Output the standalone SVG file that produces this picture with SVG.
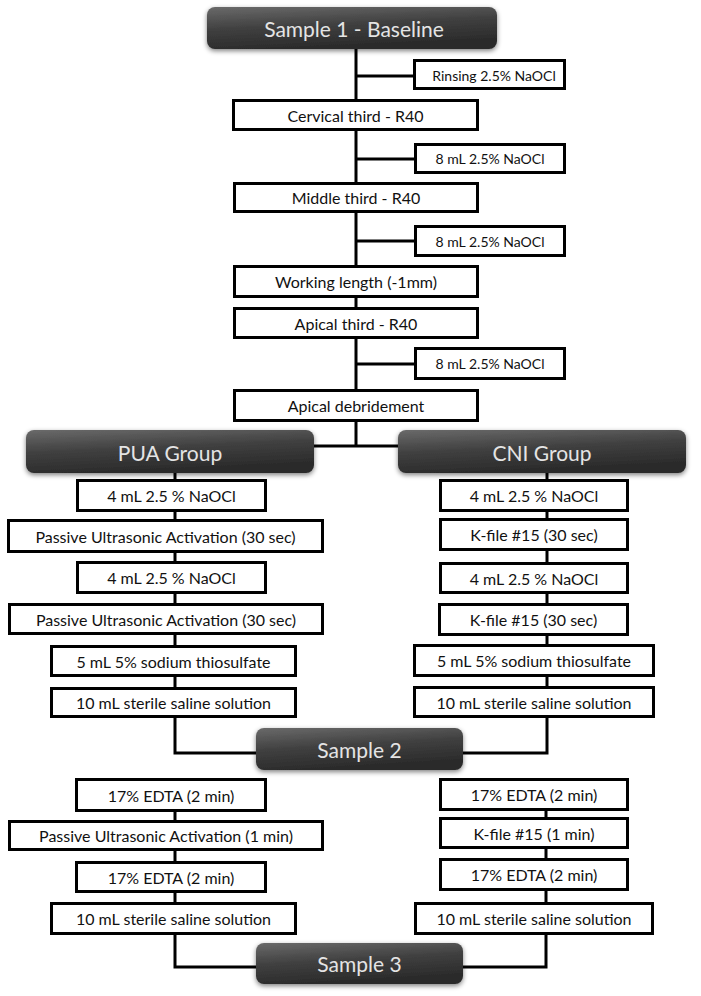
<svg xmlns="http://www.w3.org/2000/svg" width="701" height="996" viewBox="0 0 701 996">
<defs>
<linearGradient id="dg" x1="0" y1="0" x2="0.3" y2="1">
<stop offset="0" stop-color="#6a6a6a"/>
<stop offset="0.5" stop-color="#404040"/>
<stop offset="1" stop-color="#2a2a2a"/>
</linearGradient>
<filter id="sh" x="-10%" y="-30%" width="120%" height="170%">
<feGaussianBlur in="SourceAlpha" stdDeviation="2.5"/>
<feOffset dx="0" dy="2" result="b"/>
<feComponentTransfer><feFuncA type="linear" slope="0.5"/></feComponentTransfer>
<feMerge><feMergeNode/><feMergeNode in="SourceGraphic"/></feMerge>
</filter>
</defs>
<style>
.box{fill:#fff;stroke:#000;stroke-width:3}
.dark{fill:url(#dg);filter:url(#sh)}
.t{font-family:Lato,"Open Sans","Liberation Sans",sans-serif;font-size:16px;fill:#111;text-anchor:middle;dominant-baseline:central}
.s{font-size:14px}
.dt{font-family:Lato,"Open Sans","Liberation Sans",sans-serif;font-size:21px;fill:#e4e4e4;text-anchor:middle;dominant-baseline:central}
.c{fill:none;stroke:#000;stroke-width:3}
</style>
<rect width="701" height="996" fill="#fff"/>
<g id="connectors">
<path class="c" d="M356 49V446M356 76H414M356 159H415M356 241H415M356 364H415M314 446H398"/>
<path class="c" d="M175 473V753H257M547 473V753H463"/>
<path class="c" d="M175 811V967H257M546 811V967H463"/>
</g>
<g id="sample1"><rect class="dark" x="207" y="7" width="290" height="42" rx="8"/><text class="dt" x="354" y="28">Sample 1 - Baseline</text></g>
<g id="rinsing"><rect class="box" x="414.5" y="60.5" width="150" height="28"/><text class="t s" x="494" y="75">Rinsing 2.5% NaOCl</text></g>
<g id="cervical"><rect class="box" x="233.5" y="100.5" width="244" height="29"/><text class="t" x="355.5" y="115">Cervical third - R40</text></g>
<g id="naocl1"><rect class="box" x="415.5" y="144.5" width="149" height="28"/><text class="t s" x="490" y="158.5">8 mL 2.5% NaOCl</text></g>
<g id="middle"><rect class="box" x="234.5" y="183.5" width="243" height="28"/><text class="t" x="356" y="197.5">Middle third - R40</text></g>
<g id="naocl2"><rect class="box" x="415.5" y="226.5" width="149" height="29"/><text class="t s" x="490" y="241">8 mL 2.5% NaOCl</text></g>
<g id="working"><rect class="box" x="234.5" y="266.5" width="243" height="30"/><text class="t" x="356" y="281.5">Working  length (-1mm)</text></g>
<g id="apical"><rect class="box" x="234.5" y="308.5" width="243" height="29"/><text class="t" x="356" y="323">Apical third  - R40</text></g>
<g id="naocl3"><rect class="box" x="415.5" y="348.5" width="149" height="30"/><text class="t s" x="490" y="363.5">8 mL 2.5% NaOCl</text></g>
<g id="debridement"><rect class="box" x="234.5" y="390.5" width="243" height="30"/><text class="t" x="356" y="405.5">Apical debridement</text></g>
<g id="pua"><rect class="dark" x="26" y="430" width="288" height="43" rx="8"/><text class="dt" x="170" y="452">PUA Group</text></g>
<g id="cni"><rect class="dark" x="398" y="430" width="288" height="43" rx="8"/><text class="dt" x="542" y="452">CNI Group</text></g>
<g id="pua1"><rect class="box" x="77.5" y="480.5" width="188" height="30"/><text class="t" x="171.5" y="495.5">4 mL 2.5 % NaOCl</text></g>
<g id="pua2"><rect class="box" x="8.5" y="520.5" width="314" height="31"/><text class="t" x="165.5" y="536">Passive Ultrasonic Activation (30 sec)</text></g>
<g id="pua3"><rect class="box" x="77.5" y="562.5" width="188" height="30"/><text class="t" x="171.5" y="577.5">4 mL 2.5 % NaOCl</text></g>
<g id="pua4"><rect class="box" x="9.5" y="604.5" width="313" height="29"/><text class="t" x="166" y="619">Passive Ultrasonic Activation (30 sec)</text></g>
<g id="pua5"><rect class="box" x="51.5" y="646.5" width="244" height="29"/><text class="t" x="173.5" y="661">5 mL 5% sodium thiosulfate</text></g>
<g id="pua6"><rect class="box" x="51.5" y="688.5" width="244" height="28"/><text class="t" x="173.5" y="702.5">10 mL sterile saline solution</text></g>
<g id="cni1"><rect class="box" x="440.5" y="480.5" width="187" height="30"/><text class="t" x="534" y="495.5">4 mL 2.5 % NaOCl</text></g>
<g id="cni2"><rect class="box" x="440.5" y="519.5" width="187" height="30"/><text class="t" x="534" y="534.5">K-file #15 (30 sec)</text></g>
<g id="cni3"><rect class="box" x="440.5" y="563.5" width="187" height="29"/><text class="t" x="534" y="578">4 mL 2.5 % NaOCl</text></g>
<g id="cni4"><rect class="box" x="439.5" y="604.5" width="188" height="30"/><text class="t" x="533.5" y="619.5">K-file #15 (30 sec)</text></g>
<g id="cni5"><rect class="box" x="414.5" y="645.5" width="239" height="30"/><text class="t" x="534" y="660.5">5 mL 5% sodium thiosulfate</text></g>
<g id="cni6"><rect class="box" x="414.5" y="687.5" width="239" height="29"/><text class="t" x="534" y="702">10 mL sterile saline solution</text></g>
<g id="sample2"><rect class="dark" x="256" y="728" width="207" height="42" rx="8"/><text class="dt" x="359.5" y="749">Sample 2</text></g>
<g id="pua7"><rect class="box" x="76.5" y="779.5" width="189" height="31"/><text class="t" x="171" y="795">17% EDTA (2 min)</text></g>
<g id="pua8"><rect class="box" x="9.5" y="821.5" width="313" height="28"/><text class="t" x="166" y="835.5">Passive Ultrasonic Activation (1 min)</text></g>
<g id="pua9"><rect class="box" x="76.5" y="862.5" width="189" height="29"/><text class="t" x="171" y="877">17% EDTA (2 min)</text></g>
<g id="pua10"><rect class="box" x="51.5" y="903.5" width="244" height="30"/><text class="t" x="173.5" y="918.5">10 mL sterile saline solution</text></g>
<g id="cni7"><rect class="box" x="440.5" y="779.5" width="187" height="30"/><text class="t" x="534" y="794.5">17% EDTA (2 min)</text></g>
<g id="cni8"><rect class="box" x="440.5" y="818.5" width="187" height="29"/><text class="t" x="534" y="833">K-file #15 (1 min)</text></g>
<g id="cni9"><rect class="box" x="440.5" y="859.5" width="187" height="30"/><text class="t" x="534" y="874.5">17% EDTA (2 min)</text></g>
<g id="cni10"><rect class="box" x="415.5" y="903.5" width="237" height="30"/><text class="t" x="534" y="918.5">10 mL sterile saline solution</text></g>
<g id="sample3"><rect class="dark" x="256" y="943" width="207" height="41" rx="8"/><text class="dt" x="359.5" y="963.5">Sample 3</text></g>
</svg>
